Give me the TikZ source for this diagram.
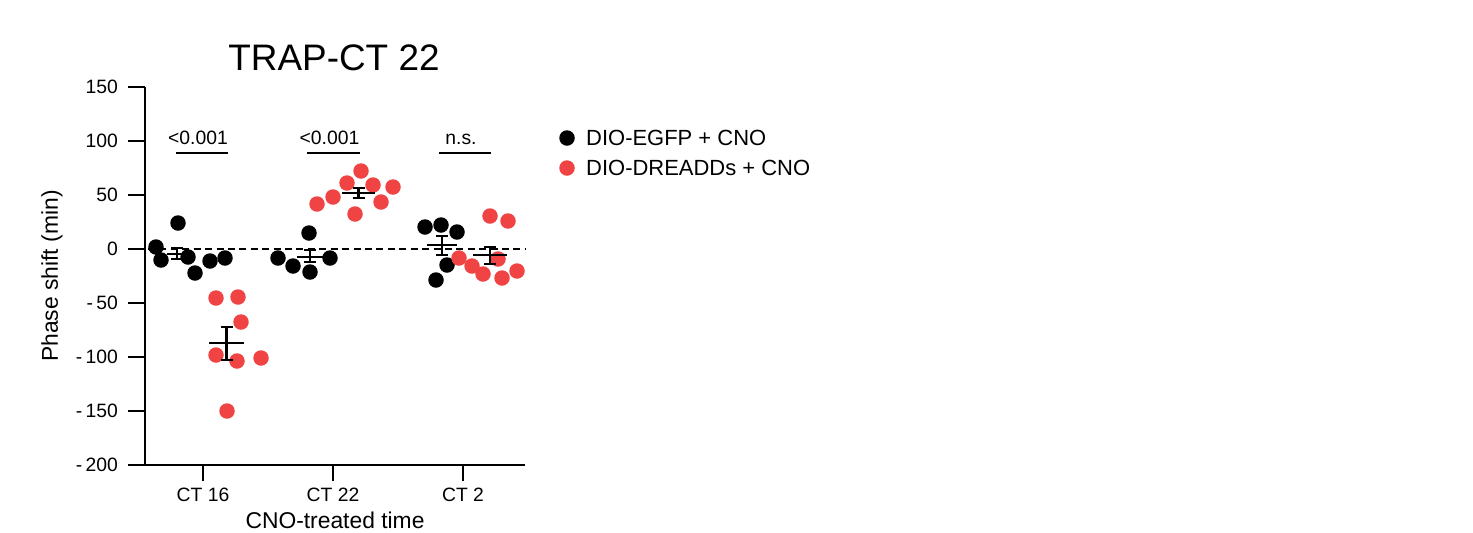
\documentclass[tikz,border=0pt]{standalone}
\usepackage{fontspec}
\setmainfont{Liberation Sans}
\definecolor{dreadd}{RGB}{240,68,68}
\begin{document}
\begin{tikzpicture}[x=0.02cm, y=-0.02cm,
   pt/.style={circle, inner sep=0pt, minimum size=0.31cm},
   bar/.style={line width=1.2pt},
   tick/.style={font=\fontsize{11}{13}\selectfont}]
   \useasboundingbox (0,0) rectangle (1473,532);
   %titulo
   \node (title) at (334,58) {\fontsize{21}{24}\selectfont TRAP-CT 22};
   %ejes
   \draw[line width=1.5pt] (145,87) -- (145,465) -- (525,465);
   \foreach \v in {150,100,50,0,-50,-100,-150,-200} {
      \pgfmathsetmacro{\py}{249-1.08*\v}
      \draw[line width=1.5pt] (145,\py) -- (128,\py);
      \pgfmathtruncatemacro{\av}{abs(\v)}
      \ifnum\v<0
         \node[tick, anchor=east] at (124,\py) {-\,\av};
      \else
         \node[tick, anchor=east] at (124,\py) {\av};
      \fi
   }
   \foreach \x/\lab in {203/CT 16, 333/CT 22, 463/CT 2} {
      \draw[line width=1.5pt] (\x,465) -- (\x,481);
      \node[tick] at (\x,495) {\lab};
   }
   \node[rotate=90] (ylab) at (52,276) {\fontsize{13}{15}\selectfont Phase shift (min)};
   \node (xlab) at (335,520) {\fontsize{13}{15}\selectfont CNO-treated time};
   %linea cero
   \draw[line width=1.6pt, dash pattern=on 4pt off 2.5pt] (148,249) -- (525,249);
   %puntos control
   \foreach \x/\y in {156/247,161/260,178/223,188/257,195/273,210/261,225/258,
                      278/258,293/266,309/233,310/272,330/258,
                      425/227,441/225,457/232,447/265,436/280}
      \node[pt, fill=black] at (\x,\y) {};
   %puntos DREADDs
   \foreach \x/\y in {216/298,238/297,241/322,216/355,237/361,261/358,227/411,
                      317/204,333/197,347/183,361/171,373/185,355/214,381/202,393/187,
                      459/258,472/266,483/274,490/216,508/221,498/259,502/278,517/271}
      \node[pt, fill=dreadd] at (\x,\y) {};
   %medias y error
   \foreach \xa/\xb/\m/\lo/\hi in {167/187/254/248/259, 209/244/343/327/360,
                                  297/323/257/250/262, 342/375/193/188/198,
                                  427/457/245/236/255, 473/507/255/247/264} {
      \draw[bar] (\xa,\m) -- (\xb,\m);
      \draw[bar] ({(\xa+\xb)/2},\lo) -- ({(\xa+\xb)/2},\hi);
      \draw[bar] ({(\xa+\xb)/2-6},\lo) -- ({(\xa+\xb)/2+6},\lo);
      \draw[bar] ({(\xa+\xb)/2-6},\hi) -- ({(\xa+\xb)/2+6},\hi);
   }
   %significancia
   \foreach \xa/\xb/\lab in {176/228/{<0.001}, 307/360/{<0.001}, 439/491/{n.s.}} {
      \draw[bar] (\xa,153) -- (\xb,153);
      \node[tick, anchor=base] at ({(\xa+\xb)/2-4},144) {\lab};
   }
   %leyenda
   \node[pt, fill=black] (l1) at (567,138) {};
   \node[pt, fill=dreadd] (l2) at (567,168) {};
   \node[anchor=west, font=\fontsize{12.5}{15}\selectfont] at (580,138) {DIO-EGFP + CNO};
   \node[anchor=west, font=\fontsize{12.5}{15}\selectfont] at (580,168) {DIO-DREADDs + CNO};
\end{tikzpicture}
\end{document}
